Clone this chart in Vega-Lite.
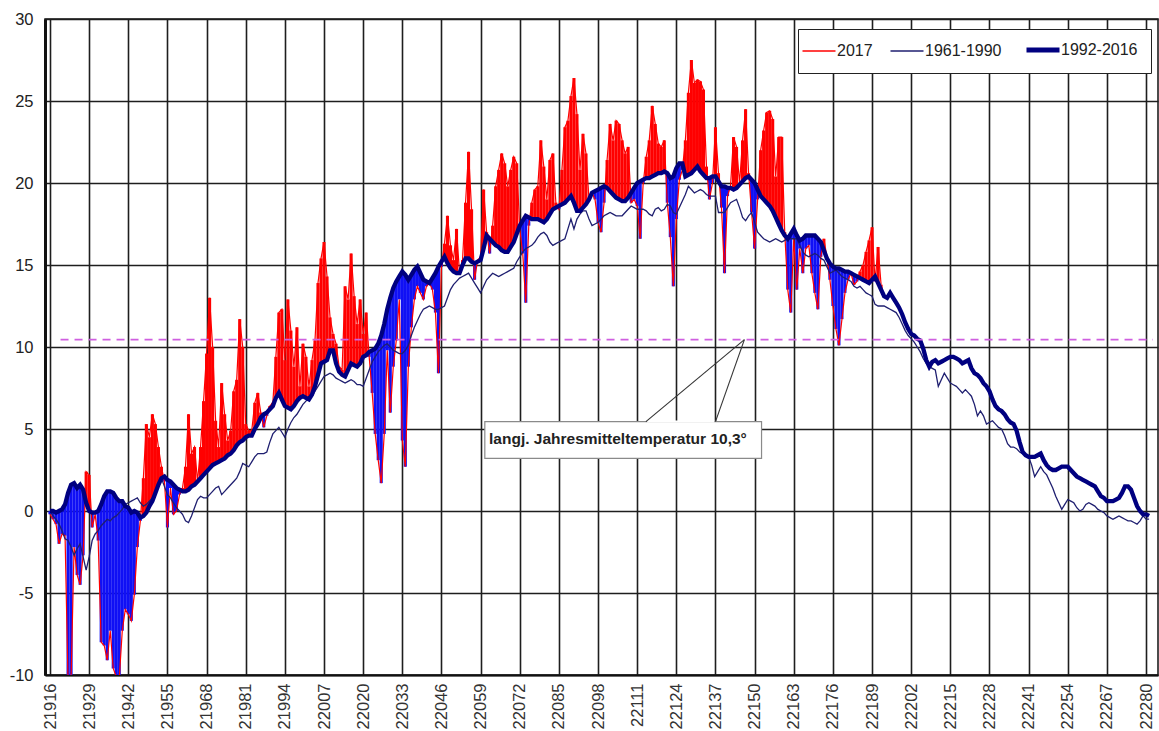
{
  "$schema": "https://vega.github.io/schema/vega-lite/v6.json",
  "width": 1113,
  "height": 656,
  "autosize": "none",
  "padding": {"left": 45, "top": 19, "right": 1, "bottom": 56},
  "background": "white",
  "config": {"view": {"stroke": "#111", "strokeWidth": 1.5}, "font": "Liberation Sans"},
  "datasets": {
    "temps": [
{"day":21916,"t2017":-0.2,"t6190":0.0,"t9216":0.0},
{"day":21917,"t2017":-0.5,"t6190":-0.3,"t9216":0.0},
{"day":21918,"t2017":-0.8,"t6190":-0.5,"t9216":-0.1},
{"day":21919,"t2017":-2.0,"t6190":-0.8,"t9216":0.0},
{"day":21920,"t2017":-1.4,"t6190":-1.2,"t9216":0.1},
{"day":21921,"t2017":-1.5,"t6190":-1.7,"t9216":0.4},
{"day":21922,"t2017":-10.5,"t6190":-1.8,"t9216":1.1},
{"day":21923,"t2017":-10.2,"t6190":-2.2,"t9216":1.6},
{"day":21924,"t2017":-2.2,"t6190":-2.7,"t9216":1.7},
{"day":21925,"t2017":-3.9,"t6190":-2.3,"t9216":1.4},
{"day":21926,"t2017":-4.5,"t6190":-2.0,"t9216":1.6},
{"day":21927,"t2017":-2.7,"t6190":-2.8,"t9216":1.3},
{"day":21928,"t2017":2.4,"t6190":-3.6,"t9216":0.5},
{"day":21929,"t2017":2.2,"t6190":-2.8,"t9216":0.0},
{"day":21930,"t2017":-1.0,"t6190":-1.8,"t9216":-0.1},
{"day":21931,"t2017":-0.2,"t6190":-1.4,"t9216":-0.1},
{"day":21932,"t2017":-1.8,"t6190":-1.2,"t9216":0.0},
{"day":21933,"t2017":-8.0,"t6190":-0.9,"t9216":0.4},
{"day":21934,"t2017":-8.2,"t6190":-0.7,"t9216":0.9},
{"day":21935,"t2017":-9.1,"t6190":-0.5,"t9216":1.2},
{"day":21936,"t2017":-7.3,"t6190":-0.6,"t9216":1.2},
{"day":21937,"t2017":-9.6,"t6190":-0.4,"t9216":1.1},
{"day":21938,"t2017":-10.1,"t6190":-0.3,"t9216":0.8},
{"day":21939,"t2017":-10.2,"t6190":-0.1,"t9216":0.6},
{"day":21940,"t2017":-7.3,"t6190":0.1,"t9216":0.6},
{"day":21941,"t2017":-6.0,"t6190":0.4,"t9216":0.3},
{"day":21942,"t2017":-6.3,"t6190":0.5,"t9216":0.2},
{"day":21943,"t2017":-6.7,"t6190":0.6,"t9216":-0.1},
{"day":21944,"t2017":-5.1,"t6190":0.7,"t9216":0.0},
{"day":21945,"t2017":-2.2,"t6190":0.8,"t9216":-0.1},
{"day":21946,"t2017":-0.6,"t6190":0.5,"t9216":-0.4},
{"day":21947,"t2017":2.0,"t6190":0.3,"t9216":-0.3},
{"day":21948,"t2017":5.3,"t6190":0.4,"t9216":-0.1},
{"day":21949,"t2017":4.5,"t6190":0.6,"t9216":0.3},
{"day":21950,"t2017":5.9,"t6190":0.8,"t9216":0.6},
{"day":21951,"t2017":5.3,"t6190":1.2,"t9216":1.1},
{"day":21952,"t2017":3.9,"t6190":1.6,"t9216":1.6},
{"day":21953,"t2017":2.7,"t6190":2.0,"t9216":2.0},
{"day":21954,"t2017":1.8,"t6190":1.5,"t9216":2.1},
{"day":21955,"t2017":-1.0,"t6190":1.0,"t9216":1.9},
{"day":21956,"t2017":1.4,"t6190":0.8,"t9216":1.8},
{"day":21957,"t2017":-0.2,"t6190":0.5,"t9216":1.6},
{"day":21958,"t2017":0.0,"t6190":0.2,"t9216":1.4},
{"day":21959,"t2017":1.0,"t6190":0.0,"t9216":1.3},
{"day":21960,"t2017":1.4,"t6190":-0.2,"t9216":1.2},
{"day":21961,"t2017":2.7,"t6190":-0.6,"t9216":1.2},
{"day":21962,"t2017":5.9,"t6190":-0.7,"t9216":1.3},
{"day":21963,"t2017":3.5,"t6190":-0.3,"t9216":1.5},
{"day":21964,"t2017":3.9,"t6190":0.2,"t9216":1.6},
{"day":21965,"t2017":1.8,"t6190":0.7,"t9216":1.8},
{"day":21966,"t2017":3.9,"t6190":0.9,"t9216":2.0},
{"day":21967,"t2017":6.7,"t6190":0.8,"t9216":2.2},
{"day":21968,"t2017":9.6,"t6190":0.8,"t9216":2.4},
{"day":21969,"t2017":13.0,"t6190":1.0,"t9216":2.6},
{"day":21970,"t2017":10.0,"t6190":1.2,"t9216":2.8},
{"day":21971,"t2017":5.5,"t6190":1.4,"t9216":2.9},
{"day":21972,"t2017":3.9,"t6190":1.5,"t9216":3.0},
{"day":21973,"t2017":7.8,"t6190":1.0,"t9216":3.1},
{"day":21974,"t2017":5.9,"t6190":1.2,"t9216":3.2},
{"day":21975,"t2017":4.3,"t6190":1.4,"t9216":3.4},
{"day":21976,"t2017":4.9,"t6190":1.6,"t9216":3.5},
{"day":21977,"t2017":7.3,"t6190":1.8,"t9216":3.7},
{"day":21978,"t2017":8.0,"t6190":2.0,"t9216":4.0},
{"day":21979,"t2017":11.7,"t6190":2.4,"t9216":4.2},
{"day":21980,"t2017":10.0,"t6190":2.9,"t9216":4.3},
{"day":21981,"t2017":5.3,"t6190":2.8,"t9216":4.5},
{"day":21982,"t2017":4.9,"t6190":2.7,"t9216":4.6},
{"day":21983,"t2017":4.9,"t6190":3.0,"t9216":4.6},
{"day":21984,"t2017":6.6,"t6190":3.3,"t9216":5.0},
{"day":21985,"t2017":7.2,"t6190":3.5,"t9216":5.3},
{"day":21986,"t2017":6.0,"t6190":3.5,"t9216":5.7},
{"day":21987,"t2017":5.1,"t6190":3.5,"t9216":5.9},
{"day":21988,"t2017":5.8,"t6190":3.6,"t9216":6.0},
{"day":21989,"t2017":6.4,"t6190":4.2,"t9216":6.2},
{"day":21990,"t2017":6.6,"t6190":4.7,"t9216":6.4},
{"day":21991,"t2017":9.4,"t6190":4.9,"t9216":6.9},
{"day":21992,"t2017":12.1,"t6190":5.1,"t9216":7.2},
{"day":21993,"t2017":12.3,"t6190":4.8,"t9216":6.8},
{"day":21994,"t2017":9.2,"t6190":4.5,"t9216":6.4},
{"day":21995,"t2017":12.9,"t6190":5.0,"t9216":6.3},
{"day":21996,"t2017":11.0,"t6190":5.4,"t9216":6.2},
{"day":21997,"t2017":8.8,"t6190":5.7,"t9216":6.4},
{"day":21998,"t2017":11.2,"t6190":5.9,"t9216":6.7},
{"day":21999,"t2017":7.6,"t6190":6.2,"t9216":6.9},
{"day":22000,"t2017":10.2,"t6190":6.5,"t9216":7.0},
{"day":22001,"t2017":9.4,"t6190":6.7,"t9216":6.9},
{"day":22002,"t2017":7.6,"t6190":6.9,"t9216":6.8},
{"day":22003,"t2017":9.2,"t6190":7.0,"t9216":7.1},
{"day":22004,"t2017":10.4,"t6190":7.3,"t9216":7.6},
{"day":22005,"t2017":13.9,"t6190":7.6,"t9216":8.3},
{"day":22006,"t2017":15.4,"t6190":7.9,"t9216":9.0},
{"day":22007,"t2017":16.4,"t6190":8.2,"t9216":9.1},
{"day":22008,"t2017":14.3,"t6190":8.3,"t9216":9.2},
{"day":22009,"t2017":11.8,"t6190":8.4,"t9216":9.8},
{"day":22010,"t2017":10.8,"t6190":8.3,"t9216":9.8},
{"day":22011,"t2017":10.2,"t6190":8.1,"t9216":9.0},
{"day":22012,"t2017":8.8,"t6190":8.0,"t9216":8.5},
{"day":22013,"t2017":8.6,"t6190":7.9,"t9216":8.3},
{"day":22014,"t2017":13.7,"t6190":7.8,"t9216":8.2},
{"day":22015,"t2017":12.9,"t6190":7.9,"t9216":8.6},
{"day":22016,"t2017":15.7,"t6190":8.0,"t9216":9.0},
{"day":22017,"t2017":13.1,"t6190":7.9,"t9216":8.9},
{"day":22018,"t2017":11.4,"t6190":7.7,"t9216":8.8},
{"day":22019,"t2017":12.9,"t6190":7.7,"t9216":9.0},
{"day":22020,"t2017":10.8,"t6190":7.6,"t9216":9.4},
{"day":22021,"t2017":12.1,"t6190":8.1,"t9216":9.5},
{"day":22022,"t2017":9.4,"t6190":8.6,"t9216":9.7},
{"day":22023,"t2017":7.2,"t6190":9.1,"t9216":9.8},
{"day":22024,"t2017":4.7,"t6190":9.4,"t9216":9.9},
{"day":22025,"t2017":3.1,"t6190":9.7,"t9216":10.2},
{"day":22026,"t2017":1.7,"t6190":9.9,"t9216":10.7},
{"day":22027,"t2017":4.7,"t6190":10.1,"t9216":11.4},
{"day":22028,"t2017":9.8,"t6190":10.2,"t9216":12.3},
{"day":22029,"t2017":6.0,"t6190":10.0,"t9216":13.0},
{"day":22030,"t2017":8.8,"t6190":9.8,"t9216":13.6},
{"day":22031,"t2017":10.4,"t6190":9.7,"t9216":14.0},
{"day":22032,"t2017":12.9,"t6190":9.6,"t9216":14.3},
{"day":22033,"t2017":4.3,"t6190":9.6,"t9216":14.6},
{"day":22034,"t2017":2.7,"t6190":9.8,"t9216":14.4},
{"day":22035,"t2017":8.8,"t6190":10.1,"t9216":14.1},
{"day":22036,"t2017":11.2,"t6190":10.7,"t9216":14.4},
{"day":22037,"t2017":12.9,"t6190":11.2,"t9216":14.7},
{"day":22038,"t2017":13.7,"t6190":11.6,"t9216":14.9},
{"day":22039,"t2017":13.3,"t6190":12.0,"t9216":14.5},
{"day":22040,"t2017":12.9,"t6190":12.3,"t9216":14.1},
{"day":22041,"t2017":13.7,"t6190":12.4,"t9216":14.0},
{"day":22042,"t2017":13.9,"t6190":12.5,"t9216":13.9},
{"day":22043,"t2017":13.5,"t6190":12.4,"t9216":14.2},
{"day":22044,"t2017":12.1,"t6190":12.3,"t9216":14.5},
{"day":22045,"t2017":8.4,"t6190":12.3,"t9216":14.9},
{"day":22046,"t2017":14.9,"t6190":12.4,"t9216":15.2},
{"day":22047,"t2017":16.3,"t6190":12.5,"t9216":15.5},
{"day":22048,"t2017":18.0,"t6190":13.0,"t9216":15.1},
{"day":22049,"t2017":16.2,"t6190":13.5,"t9216":14.8},
{"day":22050,"t2017":15.3,"t6190":13.8,"t9216":14.6},
{"day":22051,"t2017":17.2,"t6190":14.0,"t9216":14.5},
{"day":22052,"t2017":14.5,"t6190":14.2,"t9216":14.5},
{"day":22053,"t2017":15.3,"t6190":14.3,"t9216":15.0},
{"day":22054,"t2017":18.8,"t6190":14.4,"t9216":15.4},
{"day":22055,"t2017":21.9,"t6190":14.5,"t9216":15.4},
{"day":22056,"t2017":18.4,"t6190":14.2,"t9216":15.2},
{"day":22057,"t2017":14.1,"t6190":13.9,"t9216":15.1},
{"day":22058,"t2017":15.3,"t6190":13.6,"t9216":15.2},
{"day":22059,"t2017":15.5,"t6190":13.3,"t9216":15.3},
{"day":22060,"t2017":19.6,"t6190":13.7,"t9216":16.0},
{"day":22061,"t2017":17.0,"t6190":14.1,"t9216":16.8},
{"day":22062,"t2017":15.7,"t6190":14.3,"t9216":16.6},
{"day":22063,"t2017":17.4,"t6190":14.5,"t9216":16.4},
{"day":22064,"t2017":19.8,"t6190":14.4,"t9216":16.2},
{"day":22065,"t2017":20.8,"t6190":14.3,"t9216":16.1},
{"day":22066,"t2017":21.8,"t6190":14.4,"t9216":15.9},
{"day":22067,"t2017":21.2,"t6190":14.5,"t9216":15.8},
{"day":22068,"t2017":19.8,"t6190":14.6,"t9216":15.8},
{"day":22069,"t2017":20.8,"t6190":14.7,"t9216":16.1},
{"day":22070,"t2017":21.6,"t6190":14.8,"t9216":16.4},
{"day":22071,"t2017":21.2,"t6190":15.2,"t9216":16.9},
{"day":22072,"t2017":17.2,"t6190":15.5,"t9216":17.4},
{"day":22073,"t2017":15.7,"t6190":15.8,"t9216":17.7},
{"day":22074,"t2017":12.7,"t6190":16.0,"t9216":18.0},
{"day":22075,"t2017":17.4,"t6190":16.1,"t9216":17.9},
{"day":22076,"t2017":18.8,"t6190":16.2,"t9216":17.8},
{"day":22077,"t2017":19.6,"t6190":16.4,"t9216":17.8},
{"day":22078,"t2017":19.8,"t6190":16.7,"t9216":17.8},
{"day":22079,"t2017":22.6,"t6190":16.9,"t9216":17.7},
{"day":22080,"t2017":21.0,"t6190":17.0,"t9216":17.6},
{"day":22081,"t2017":19.0,"t6190":16.8,"t9216":17.8},
{"day":22082,"t2017":21.4,"t6190":16.4,"t9216":18.1},
{"day":22083,"t2017":21.8,"t6190":16.2,"t9216":18.4},
{"day":22084,"t2017":18.8,"t6190":16.3,"t9216":18.5},
{"day":22085,"t2017":18.4,"t6190":16.4,"t9216":18.6},
{"day":22086,"t2017":20.8,"t6190":16.5,"t9216":18.7},
{"day":22087,"t2017":23.4,"t6190":16.6,"t9216":18.8},
{"day":22088,"t2017":23.8,"t6190":17.2,"t9216":19.0},
{"day":22089,"t2017":25.3,"t6190":17.8,"t9216":19.2},
{"day":22090,"t2017":26.4,"t6190":17.2,"t9216":18.8},
{"day":22091,"t2017":24.2,"t6190":17.8,"t9216":18.3},
{"day":22092,"t2017":20.8,"t6190":18.1,"t9216":18.3},
{"day":22093,"t2017":23.0,"t6190":18.3,"t9216":18.5},
{"day":22094,"t2017":21.8,"t6190":18.3,"t9216":18.7},
{"day":22095,"t2017":19.0,"t6190":17.8,"t9216":19.0},
{"day":22096,"t2017":19.4,"t6190":17.4,"t9216":19.4},
{"day":22097,"t2017":19.0,"t6190":17.5,"t9216":19.5},
{"day":22098,"t2017":17.6,"t6190":17.6,"t9216":19.6},
{"day":22099,"t2017":17.0,"t6190":17.8,"t9216":19.7},
{"day":22100,"t2017":18.8,"t6190":18.0,"t9216":19.8},
{"day":22101,"t2017":21.4,"t6190":18.1,"t9216":19.7},
{"day":22102,"t2017":23.6,"t6190":18.2,"t9216":19.5},
{"day":22103,"t2017":22.6,"t6190":18.1,"t9216":19.3},
{"day":22104,"t2017":23.8,"t6190":18.0,"t9216":19.1},
{"day":22105,"t2017":23.6,"t6190":18.0,"t9216":19.0},
{"day":22106,"t2017":22.6,"t6190":18.0,"t9216":18.9},
{"day":22107,"t2017":21.8,"t6190":18.2,"t9216":18.9},
{"day":22108,"t2017":22.2,"t6190":18.4,"t9216":19.1},
{"day":22109,"t2017":18.8,"t6190":18.6,"t9216":19.4},
{"day":22110,"t2017":19.0,"t6190":18.5,"t9216":19.7},
{"day":22111,"t2017":18.6,"t6190":18.4,"t9216":20.0},
{"day":22112,"t2017":16.6,"t6190":18.4,"t9216":20.1},
{"day":22113,"t2017":20.0,"t6190":18.4,"t9216":20.2},
{"day":22114,"t2017":21.6,"t6190":18.3,"t9216":20.3},
{"day":22115,"t2017":22.6,"t6190":18.1,"t9216":20.3},
{"day":22116,"t2017":24.7,"t6190":18.0,"t9216":20.4},
{"day":22117,"t2017":23.6,"t6190":18.4,"t9216":20.5},
{"day":22118,"t2017":22.4,"t6190":18.5,"t9216":20.6},
{"day":22119,"t2017":22.2,"t6190":18.3,"t9216":20.6},
{"day":22120,"t2017":22.6,"t6190":18.4,"t9216":20.7},
{"day":22121,"t2017":18.8,"t6190":18.7,"t9216":20.6},
{"day":22122,"t2017":16.7,"t6190":18.6,"t9216":20.3},
{"day":22123,"t2017":13.7,"t6190":18.2,"t9216":20.4},
{"day":22124,"t2017":17.8,"t6190":18.1,"t9216":20.9},
{"day":22125,"t2017":20.2,"t6190":18.5,"t9216":21.2},
{"day":22126,"t2017":20.8,"t6190":18.9,"t9216":21.2},
{"day":22127,"t2017":22.6,"t6190":19.3,"t9216":20.4},
{"day":22128,"t2017":25.5,"t6190":19.8,"t9216":20.5},
{"day":22129,"t2017":27.5,"t6190":19.6,"t9216":20.6},
{"day":22130,"t2017":26.1,"t6190":19.4,"t9216":20.8},
{"day":22131,"t2017":26.3,"t6190":19.5,"t9216":21.0},
{"day":22132,"t2017":26.2,"t6190":19.6,"t9216":20.7},
{"day":22133,"t2017":25.7,"t6190":19.5,"t9216":20.5},
{"day":22134,"t2017":21.0,"t6190":19.3,"t9216":20.3},
{"day":22135,"t2017":19.0,"t6190":19.2,"t9216":20.3},
{"day":22136,"t2017":20.0,"t6190":19.2,"t9216":20.4},
{"day":22137,"t2017":23.4,"t6190":19.2,"t9216":20.4},
{"day":22138,"t2017":20.6,"t6190":18.2,"t9216":20.1},
{"day":22139,"t2017":18.5,"t6190":18.2,"t9216":19.8},
{"day":22140,"t2017":14.5,"t6190":18.2,"t9216":19.8},
{"day":22141,"t2017":19.2,"t6190":18.5,"t9216":19.7},
{"day":22142,"t2017":19.8,"t6190":18.8,"t9216":19.7},
{"day":22143,"t2017":22.8,"t6190":18.9,"t9216":19.6},
{"day":22144,"t2017":22.2,"t6190":19.0,"t9216":19.7},
{"day":22145,"t2017":20.0,"t6190":18.5,"t9216":19.9},
{"day":22146,"t2017":22.6,"t6190":17.9,"t9216":20.1},
{"day":22147,"t2017":24.5,"t6190":17.7,"t9216":20.3},
{"day":22148,"t2017":20.6,"t6190":18.0,"t9216":20.4},
{"day":22149,"t2017":18.2,"t6190":18.2,"t9216":20.2},
{"day":22150,"t2017":16.0,"t6190":17.6,"t9216":20.0},
{"day":22151,"t2017":19.0,"t6190":17.0,"t9216":19.6},
{"day":22152,"t2017":22.0,"t6190":16.8,"t9216":19.2},
{"day":22153,"t2017":23.2,"t6190":16.6,"t9216":19.0},
{"day":22154,"t2017":24.3,"t6190":16.5,"t9216":18.8},
{"day":22155,"t2017":24.4,"t6190":16.4,"t9216":18.6},
{"day":22156,"t2017":23.9,"t6190":16.5,"t9216":18.3},
{"day":22157,"t2017":20.4,"t6190":16.6,"t9216":17.9},
{"day":22158,"t2017":22.8,"t6190":16.5,"t9216":17.5},
{"day":22159,"t2017":22.8,"t6190":16.4,"t9216":17.1},
{"day":22160,"t2017":17.0,"t6190":16.5,"t9216":16.8},
{"day":22161,"t2017":13.5,"t6190":16.6,"t9216":16.6},
{"day":22162,"t2017":12.1,"t6190":16.6,"t9216":16.9},
{"day":22163,"t2017":16.6,"t6190":16.6,"t9216":17.2},
{"day":22164,"t2017":13.5,"t6190":16.6,"t9216":16.8},
{"day":22165,"t2017":16.0,"t6190":16.2,"t9216":16.5},
{"day":22166,"t2017":14.5,"t6190":15.8,"t9216":16.6},
{"day":22167,"t2017":16.0,"t6190":15.6,"t9216":16.8},
{"day":22168,"t2017":16.2,"t6190":15.5,"t9216":16.8},
{"day":22169,"t2017":14.5,"t6190":15.6,"t9216":16.8},
{"day":22170,"t2017":13.3,"t6190":15.7,"t9216":16.8},
{"day":22171,"t2017":12.3,"t6190":15.6,"t9216":16.6},
{"day":22172,"t2017":15.5,"t6190":15.4,"t9216":16.4},
{"day":22173,"t2017":16.6,"t6190":15.3,"t9216":15.9},
{"day":22174,"t2017":15.5,"t6190":14.9,"t9216":15.4},
{"day":22175,"t2017":14.1,"t6190":14.5,"t9216":15.1},
{"day":22176,"t2017":12.5,"t6190":14.6,"t9216":14.9},
{"day":22177,"t2017":11.1,"t6190":14.7,"t9216":14.8},
{"day":22178,"t2017":10.1,"t6190":14.5,"t9216":14.8},
{"day":22179,"t2017":11.7,"t6190":14.3,"t9216":14.7},
{"day":22180,"t2017":13.3,"t6190":14.2,"t9216":14.6},
{"day":22181,"t2017":14.1,"t6190":14.1,"t9216":14.6},
{"day":22182,"t2017":14.5,"t6190":14.0,"t9216":14.5},
{"day":22183,"t2017":13.8,"t6190":13.7,"t9216":14.4},
{"day":22184,"t2017":14.0,"t6190":13.6,"t9216":14.3},
{"day":22185,"t2017":14.6,"t6190":13.7,"t9216":14.2},
{"day":22186,"t2017":15.0,"t6190":13.5,"t9216":14.1},
{"day":22187,"t2017":15.8,"t6190":13.3,"t9216":14.0},
{"day":22188,"t2017":16.5,"t6190":13.2,"t9216":13.9},
{"day":22189,"t2017":17.3,"t6190":13.1,"t9216":14.1},
{"day":22190,"t2017":14.0,"t6190":12.6,"t9216":14.3},
{"day":22191,"t2017":16.1,"t6190":12.5,"t9216":13.9},
{"day":22192,"t2017":13.8,"t6190":12.5,"t9216":13.5},
{"day":22193,"t6190":12.5,"t9216":13.1},
{"day":22194,"t6190":12.4,"t9216":13.0},
{"day":22195,"t6190":12.3,"t9216":13.3},
{"day":22196,"t6190":12.2,"t9216":13.0},
{"day":22197,"t6190":12.1,"t9216":12.7},
{"day":22198,"t6190":11.8,"t9216":12.4},
{"day":22199,"t6190":11.4,"t9216":12.0},
{"day":22200,"t6190":11.0,"t9216":11.5},
{"day":22201,"t6190":10.7,"t9216":11.1},
{"day":22202,"t6190":10.5,"t9216":10.8},
{"day":22203,"t6190":10.3,"t9216":10.7},
{"day":22204,"t6190":10.0,"t9216":10.5},
{"day":22205,"t6190":9.7,"t9216":10.4},
{"day":22206,"t6190":9.3,"t9216":9.9},
{"day":22207,"t6190":9.0,"t9216":9.2},
{"day":22208,"t6190":8.8,"t9216":8.8},
{"day":22209,"t6190":8.7,"t9216":9.1},
{"day":22210,"t6190":8.6,"t9216":9.2},
{"day":22211,"t6190":7.6,"t9216":9.0},
{"day":22212,"t6190":8.0,"t9216":9.1},
{"day":22213,"t6190":8.4,"t9216":9.2},
{"day":22214,"t6190":8.1,"t9216":9.3},
{"day":22215,"t6190":7.8,"t9216":9.4},
{"day":22216,"t6190":7.7,"t9216":9.4},
{"day":22217,"t6190":7.6,"t9216":9.3},
{"day":22218,"t6190":7.4,"t9216":9.2},
{"day":22219,"t6190":7.2,"t9216":9.0},
{"day":22220,"t6190":7.4,"t9216":9.1},
{"day":22221,"t6190":7.2,"t9216":9.2},
{"day":22222,"t6190":7.0,"t9216":8.7},
{"day":22223,"t6190":6.5,"t9216":8.4},
{"day":22224,"t6190":5.8,"t9216":8.3},
{"day":22225,"t6190":6.1,"t9216":8.1},
{"day":22226,"t6190":5.8,"t9216":7.8},
{"day":22227,"t6190":5.3,"t9216":7.6},
{"day":22228,"t6190":5.4,"t9216":7.3},
{"day":22229,"t6190":5.5,"t9216":6.8},
{"day":22230,"t6190":5.3,"t9216":6.4},
{"day":22231,"t6190":5.1,"t9216":6.2},
{"day":22232,"t6190":5.0,"t9216":6.1},
{"day":22233,"t6190":4.6,"t9216":5.9},
{"day":22234,"t6190":4.1,"t9216":5.6},
{"day":22235,"t6190":3.9,"t9216":5.4},
{"day":22236,"t6190":3.9,"t9216":5.3},
{"day":22237,"t6190":3.8,"t9216":4.9},
{"day":22238,"t6190":3.6,"t9216":4.2},
{"day":22239,"t6190":3.5,"t9216":3.6},
{"day":22240,"t6190":3.4,"t9216":3.4},
{"day":22241,"t6190":3.3,"t9216":3.3},
{"day":22242,"t6190":2.8,"t9216":3.3},
{"day":22243,"t6190":2.1,"t9216":3.3},
{"day":22244,"t6190":2.4,"t9216":3.4},
{"day":22245,"t6190":2.7,"t9216":3.5},
{"day":22246,"t6190":2.4,"t9216":3.1},
{"day":22247,"t6190":2.2,"t9216":2.8},
{"day":22248,"t6190":1.8,"t9216":2.6},
{"day":22249,"t6190":1.4,"t9216":2.5},
{"day":22250,"t6190":0.9,"t9216":2.5},
{"day":22251,"t6190":0.5,"t9216":2.6},
{"day":22252,"t6190":0.1,"t9216":2.7},
{"day":22253,"t6190":0.4,"t9216":2.7},
{"day":22254,"t6190":0.7,"t9216":2.7},
{"day":22255,"t6190":0.6,"t9216":2.5},
{"day":22256,"t6190":0.5,"t9216":2.3},
{"day":22257,"t6190":0.2,"t9216":2.1},
{"day":22258,"t6190":0.0,"t9216":2.0},
{"day":22259,"t6190":0.1,"t9216":1.9},
{"day":22260,"t6190":0.4,"t9216":1.8},
{"day":22261,"t6190":0.5,"t9216":1.7},
{"day":22262,"t6190":0.4,"t9216":1.6},
{"day":22263,"t6190":0.3,"t9216":1.5},
{"day":22264,"t6190":0.1,"t9216":1.2},
{"day":22265,"t6190":0.0,"t9216":0.9},
{"day":22266,"t6190":-0.1,"t9216":0.8},
{"day":22267,"t6190":-0.3,"t9216":0.6},
{"day":22268,"t6190":-0.4,"t9216":0.6},
{"day":22269,"t6190":-0.5,"t9216":0.6},
{"day":22270,"t6190":-0.4,"t9216":0.7},
{"day":22271,"t6190":-0.3,"t9216":0.8},
{"day":22272,"t6190":-0.4,"t9216":1.1},
{"day":22273,"t6190":-0.5,"t9216":1.5},
{"day":22274,"t6190":-0.6,"t9216":1.5},
{"day":22275,"t6190":-0.6,"t9216":1.3},
{"day":22276,"t6190":-0.7,"t9216":0.8},
{"day":22277,"t6190":-0.8,"t9216":0.3},
{"day":22278,"t6190":-0.6,"t9216":0.0},
{"day":22279,"t6190":-0.3,"t9216":-0.2},
{"day":22280,"t6190":-0.5,"t9216":-0.2},
{"day":22281,"t6190":-0.5,"t9216":-0.3}
    ]
  },
  "data": {"name": "temps"},
  "layer": [
    {
      "transform": [{"filter": "isValid(datum.t2017)"}],
      "mark": {"type": "bar", "width": 3.1, "clip": true},
      "encoding": {
        "x": {
          "field": "day", "type": "quantitative", "title": null,
          "scale": {"domain": [21916, 22282.3], "nice": false, "zero": false},
          "axis": {
            "values": [21916,21929,21942,21955,21968,21981,21994,22007,22020,22033,22046,22059,22072,22085,22098,22111,22124,22137,22150,22163,22176,22189,22202,22215,22228,22241,22254,22267,22280],
            "tickCount": 60,
            "grid": true, "gridColor": "#1e1e1e", "gridWidth": 1.6,
            "ticks": false, "domain": true, "domainColor": "#111", "domainWidth": 2,
            "labelAngle": -90, "labelFont": "Liberation Sans", "labelFontSize": 16.5,
            "labelColor": "#333", "labelPadding": 8, "labelExpr": "'' + datum.value",
            "labelFlush": false, "labelOverlap": false, "labelBound": false, "title": null
          }
        },
        "y": {
          "field": "t2017", "type": "quantitative", "title": null,
          "scale": {"domain": [-10, 30], "nice": false, "zero": false},
          "axis": {
            "values": [-10,-5,0,5,10,15,20,25,30],
            "tickCount": 20,
            "grid": true, "gridColor": "#1e1e1e", "gridWidth": 1.6,
            "ticks": false, "domain": true, "domainColor": "#111", "domainWidth": 3,
            "labelFont": "Liberation Sans", "labelFontSize": 16.5, "labelColor": "#222",
            "labelPadding": 12, "labelExpr": "'' + datum.value",
            "labelFlush": false, "labelOverlap": false, "labelBound": false, "title": null
          }
        },
        "y2": {"field": "t9216"},
        "color": {"condition": {"test": "datum.t2017 >= datum.t9216", "value": "#ff0000"}, "value": "#1010f5"}
      }
    },
    {
      "transform": [{"filter": "isValid(datum.t2017)"}],
      "mark": {"type": "line", "strokeWidth": 1.2, "clip": true},
      "encoding": {
        "x": {"field": "day", "type": "quantitative", "title": null},
        "y": {"field": "t2017", "type": "quantitative", "title": null},
        "color": {
          "datum": "2017",
          "scale": {"domain": ["2017", "1961-1990", "1992-2016"], "range": ["#ff0000", "#1f1f70", "#000080"]},
          "legend": {
            "orient": "none", "legendX": 753, "legendY": 10, "direction": "horizontal",
            "title": null, "symbolType": "stroke", "symbolSize": 1089, "symbolStrokeWidth": 1.5,
            "labelFont": "Liberation Sans", "labelFontSize": 16, "labelColor": "#222",
            "labelOffset": 10, "columnPadding": 14, "padding": 13,
            "fillColor": "white", "strokeColor": "#222", "cornerRadius": 0,
            "encode": {"symbols": {"update": {"strokeWidth": {"signal": "datum.value === '1992-2016' ? 5 : 1.5"}}}}
          }
        }
      }
    },
    {
      "mark": {"type": "line", "strokeWidth": 1.3, "clip": true},
      "encoding": {
        "x": {"field": "day", "type": "quantitative", "title": null},
        "y": {"field": "t6190", "type": "quantitative", "title": null},
        "color": {"datum": "1961-1990"}
      }
    },
    {
      "mark": {"type": "line", "strokeWidth": 4.3, "clip": true},
      "encoding": {
        "x": {"field": "day", "type": "quantitative", "title": null},
        "y": {"field": "t9216", "type": "quantitative", "title": null},
        "color": {"datum": "1992-2016"}
      }
    },
    {
      "data": {"values": [{}]},
      "mark": {"type": "rule", "color": "#cf5fe0", "strokeDash": [8, 6], "strokeWidth": 1.6},
      "encoding": {"x": {"datum": 21919.5}, "x2": {"datum": 22282.3}, "y": {"datum": 10.45}}
    },
    {
      "data": {"values": [{}]},
      "mark": {"type": "rect", "fill": "white", "stroke": "#8a8a8a", "strokeWidth": 1.2},
      "encoding": {"x": {"datum": 22060.4}, "x2": {"datum": 22152.3}, "y": {"datum": 5.45}, "y2": {"datum": 3.21}}
    },
    {
      "data": {"values": [{}]},
      "mark": {"type": "rule", "color": "white", "strokeWidth": 2},
      "encoding": {"x": {"datum": 22114.3}, "x2": {"datum": 22136.6}, "y": {"datum": 5.45}}
    },
    {
      "data": {"values": [{}]},
      "mark": {"type": "rule", "color": "#333", "strokeWidth": 1.1},
      "encoding": {"x": {"datum": 22113.9}, "y": {"datum": 5.45}, "x2": {"datum": 22146.6}, "y2": {"datum": 10.45}}
    },
    {
      "data": {"values": [{}]},
      "mark": {"type": "rule", "color": "#333", "strokeWidth": 1.1},
      "encoding": {"x": {"datum": 22137.0}, "y": {"datum": 5.45}, "x2": {"datum": 22146.6}, "y2": {"datum": 10.45}}
    },
    {
      "data": {"values": [{}]},
      "mark": {"type": "text", "align": "left", "baseline": "middle", "font": "Liberation Sans", "fontWeight": "bold", "fontSize": 15.5, "color": "#222"},
      "encoding": {"x": {"datum": 22061.8}, "y": {"datum": 4.42}, "text": {"value": "langj. Jahresmitteltemperatur 10,3°"}}
    }
  ]
}
